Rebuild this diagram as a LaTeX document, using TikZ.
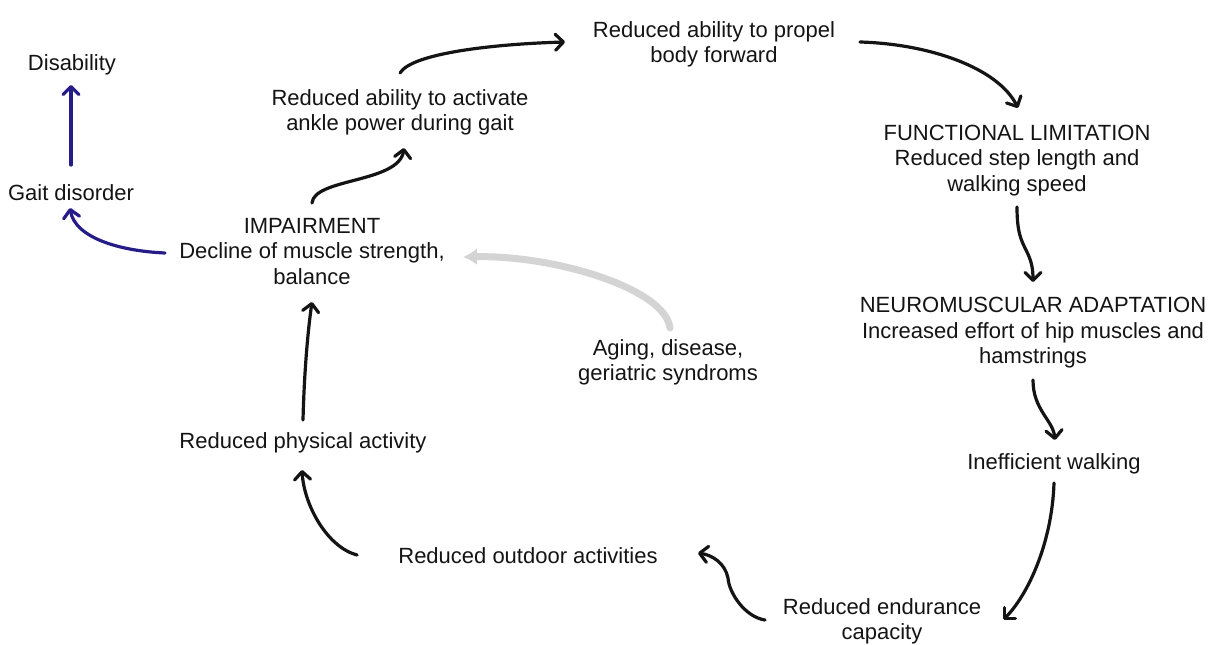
\documentclass[tikz,border=0pt]{standalone}
\usepackage{fontspec}
\setmainfont{Liberation Sans}
\usetikzlibrary{arrows.meta,calc}
\definecolor{navy}{RGB}{38,28,135}
\definecolor{lgray}{RGB}{212,212,212}
\definecolor{ink}{RGB}{20,20,20}
\begin{document}
\begin{tikzpicture}[x=1pt,y=-1pt,
  lbl/.style={inner sep=0pt,outer sep=0pt,text=ink,font=\fontsize{22}{25.5}\selectfont,align=center},
  flow/.style={line width=3.2pt,draw=ink,line cap=round,-{Straight Barb[length=8pt,width=16pt,round]}},
  blueflow/.style={flow,draw=navy},
  cause/.style={line width=7pt,draw=lgray,line cap=round,-{Latex[length=14pt,width=17pt]}}]
\fill[white] (0,0) rectangle (1211,645);
\useasboundingbox (0,0) rectangle (1211,645);

% nodes
\node[lbl,anchor=base]  (dis)     at (72,70)      {Disability};
\node[lbl,anchor=base]  (gait)    at (71,200)     {Gait disorder};
\node[lbl,anchor=north] (imp)     at (312,218.25) {IMPAIRMENT\\Decline of muscle strength,\\balance};
\node[lbl,anchor=north] (ankle)   at (400,89.25)  {Reduced ability to activate\\ankle power during gait};
\node[lbl,anchor=north] (propel)  at (714,21.25)  {Reduced ability to propel\\body forward};
\node[lbl,anchor=north] (func)    at (1017,125)   {FUNCTIONAL LIMITATION\\Reduced step length and\\walking speed};
\node[lbl,anchor=north] (neuro)   at (1033,297.25){NEUROMUSCULAR ADAPTATION\\Increased effort of hip muscles and\\hamstrings};
\node[lbl,anchor=base]  (ineff)   at (1054,469)   {Inefficient walking};
\node[lbl,anchor=north] (endur)   at (882,598.25) {Reduced endurance\\capacity};
\node[lbl,anchor=base]  (outdoor) at (528,563)    {Reduced outdoor activities};
\node[lbl,anchor=base]  (phys)    at (303,448)    {Reduced physical activity};
\node[lbl,anchor=north] (aging)   at (668,339.25) {Aging, disease,\\geriatric syndroms};

% gray cause arrow
\draw[cause] ($(aging.north)+(2,-11.25)$) .. controls +(-5,-40) and +(90,-2) .. ($(imp.north)+(151,38.75)$);

% blue arrows
\draw[blueflow] ($(gait.base)+(0,-35)$) -- ($(dis.base)+(-1,15)$);
\draw[blueflow] ($(imp.north)+(-147,34.75)$) .. controls +(-45,-2) and +(5,30) .. ($(gait.base)+(-1,8)$);

% black cycle arrows
\draw[flow] ($(imp.north)+(0,-15.25)$) .. controls +(2,-25) and +(-5,35) .. ($(ankle.north)+(4,58.75)$);
\draw[flow] ($(ankle.north)+(0,-16.25)$) .. controls +(12,-20) and +(-70,2) .. ($(propel.north)+(-149,20.75)$);
\draw[flow] ($(propel.north)+(146,20.75)$) .. controls +(70,2) and +(-20,-40) .. ($(func.north)+(1,-17)$);
\draw[flow] ($(func.north)+(0,82)$) .. controls +(0,25) and +(-5,-10) .. ++(9,43)
            .. controls +(5,10) and +(0,-15) .. ($(neuro.north)+(0,-15.25)$);
\draw[flow] ($(neuro.north)+(0,82.75)$) .. controls +(0,30) and +(-2,-20) .. ($(ineff.base)+(1,-29)$);
\draw[flow] ($(ineff.base)+(0,14)$) .. controls +(-2,60) and +(25,-25) .. ($(endur.north)+(121,21.75)$);
\draw[flow] ($(endur.north)+(-117,21.75)$) .. controls +(-20,-3) and +(1,15) .. ++(-37,-42)
            .. controls +(-3,-15) and +(14,2) .. ($(outdoor.base)+(170,-10)$);
\draw[flow] ($(outdoor.base)+(-171,-8)$) .. controls +(-30,-8) and +(2,35) .. ($(phys.base)+(-1,22)$);
\draw[flow] ($(phys.base)+(0,-28)$) .. controls +(1,-40) and +(-5,35) .. ($(imp.north)+(0,83.75)$);
\end{tikzpicture}
\end{document}
